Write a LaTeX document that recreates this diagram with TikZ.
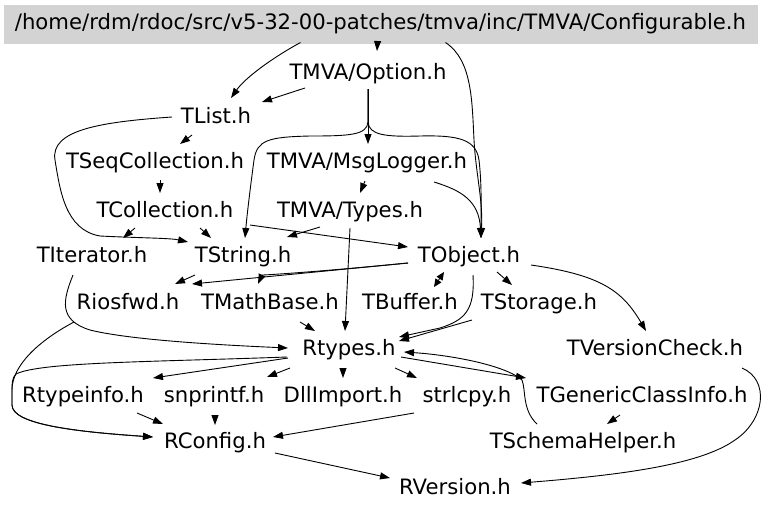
\documentclass[tikz,border=0pt]{standalone}
\usepackage{fontspec}
\setmainfont{DejaVu Sans}
\usetikzlibrary{arrows.meta,calc}
\definecolor{rootgray}{RGB}{211,211,211}
\begin{document}
\begin{tikzpicture}[x=1pt,y=-1pt,
  nd/.style={inner sep=0pt, text height=15pt, text depth=4.5pt, font=\fontsize{21.2}{25}\selectfont},
  arr/.style={draw, line width=0.9pt, -{Triangle[length=10pt,width=7pt]}},
  dbl/.style={draw, line width=0.9pt, {Triangle[length=8pt,width=7pt]}-{Triangle[length=8pt,width=7pt]}}
]
\useasboundingbox (0,0) rectangle (768,512);
\node[nd, fill=rootgray, minimum width=754pt, minimum height=39pt] (root) at (380.5,24.5) {/home/rdm/rdoc/src/v5-32-00-patches/tmva/inc/TMVA/Configurable.h};
\node[nd] (opt) at (368,74) {TMVA/Option.h};
\node[nd] (tlist) at (216,118) {TList.h};
\node[nd] (tseq) at (155,163) {TSeqCollection.h};
\node[nd] (msg) at (367,163) {TMVA/MsgLogger.h};
\node[nd] (tcoll) at (165,212) {TCollection.h};
\node[nd] (types) at (350,212) {TMVA/Types.h};
\node[nd] (titer) at (92,257) {TIterator.h};
\node[nd] (tstring) at (243,257) {TString.h};
\node[nd] (tobject) at (469,257) {TObject.h};
\node[nd] (riosfwd) at (128,304) {Riosfwd.h};
\node[nd] (tmath) at (270,304) {TMathBase.h};
\node[nd] (tbuffer) at (410,304) {TBuffer.h};
\node[nd] (tstorage) at (539,304) {TStorage.h};
\node[nd] (rtypes) at (349,350) {Rtypes.h};
\node[nd] (tversion) at (655,350) {TVersionCheck.h};
\node[nd] (rtypeinfo) at (83,397) {Rtypeinfo.h};
\node[nd] (snprintf) at (214,397) {snprintf.h};
\node[nd] (dllimport) at (343,397) {DllImport.h};
\node[nd] (strlcpy) at (467,397) {strlcpy.h};
\node[nd] (tgeneric) at (642,397) {TGenericClassInfo.h};
\node[nd] (rconfig) at (215,443) {RConfig.h};
\node[nd] (tschema) at (583,443) {TSchemaHelper.h};
\node[nd] (rversion) at (455,489) {RVersion.h};

% root
\draw[arr] ($(root)+(-80,18)$) .. controls (272,58) and (245,78) .. ($(tlist)+(15,-20)$);
\draw[arr] ($(root)+(-3,18)$) -- ($(opt)+(9,-23)$);
\draw[arr] ($(root)+(65,18)$) .. controls (472,60) and (472,100) .. (474,140) .. controls (476,175) and (483,200) .. ($(tobject)+(12,-19)$);
% option
\draw[arr] ($(opt)+(-63,14)$) -- ($(tlist)+(46,-16)$);
\draw[arr] ($(opt)+(0,15)$) -- ($(msg)+(1,-19)$);
\draw[arr] ($(opt)+(0,15)$) -- (368,122) .. controls (367,135) and (350,136) .. (310,136) .. controls (268,137) and (257,140) .. (254,160) .. controls (250,190) and (247,215) .. ($(tstring)+(2,-19)$);
\draw[arr] ($(opt)+(0,15)$) -- (368,122) .. controls (369,135) and (385,137) .. (420,136) .. controls (460,135) and (476,140) .. (479,160) .. controls (482,185) and (481,215) .. ($(tobject)+(12,-19)$);
% tlist
\draw[arr] ($(tlist)+(-24,17)$) -- ($(tseq)+(25,-19)$);
\draw[arr] ($(tlist)+(-44,-1)$) .. controls (100,122) and (50,130) .. (55,160) .. controls (60,190) and (65,230) .. (100,236) .. controls (140,238) and (170,238) .. ($(tstring)+(-55,-15)$);
% tseq, tcoll
\draw[arr] ($(tseq)+(5,17)$) -- ($(tcoll)+(-5,-19)$);
\draw[arr] ($(tcoll)+(-30,16)$) -- ($(titer)+(31,-19)$);
\draw[arr] ($(tcoll)+(35,16)$) -- ($(tstring)+(-32,-19)$);
\draw[arr] ($(tcoll)+(85,13)$) -- ($(tobject)+(-61,-10)$);
% msglogger, types
\draw[arr] ($(msg)+(-2,18)$) -- ($(types)+(10,-19)$);
\draw[arr] ($(msg)+(67,19)$) .. controls (460,190) and (479,200) .. ($(tobject)+(12,-19)$);
\draw[arr] ($(types)+(-30,15)$) -- ($(tstring)+(44,-20)$);
\draw[arr] ($(types)+(0,16)$) -- ($(rtypes)+(-4,-19)$);
% tstring, tobject
\draw[arr] ($(tstring)+(-48,18)$) -- ($(riosfwd)+(47,-20)$);
\draw[arr] ($(tobject)+(-61,6)$) -- ($(riosfwd)+(64,-20)$);
\draw[arr] ($(tobject)+(-61,6)$) .. controls (300,273.5) and (262,275) .. ($(tmath)+(-12,-20)$);
\draw[dbl] ($(tobject)+(-25,15)$) -- ($(tbuffer)+(24,-17)$);
\draw[arr] ($(tobject)+(28,15)$) -- ($(tstorage)+(-27,-19)$);
\draw[arr] ($(tobject)+(4,18)$) .. controls (475,310) and (465,320) .. (440,328) -- ($(rtypes)+(50,-13)$);
\draw[arr] ($(tstorage)+(-67,16)$) -- ($(rtypes)+(50,-9)$);
\draw[arr] ($(tobject)+(62,8)$) .. controls (600,275) and (622,290) .. ($(tversion)+(-9,-19)$);
% to rtypes
\draw[arr] ($(tmath)+(30,18)$) -- ($(rtypes)+(-34,-19)$);
\draw[arr] ($(titer)+(-19,18)$) .. controls (63,300) and (58,320) .. (90,330) .. controls (130,340) and (220,345) .. ($(rtypes)+(-61,-2)$);
% to rconfig (left bundle)
\draw[arr] ($(riosfwd)+(-54,18)$) .. controls (40,340) and (12,365) .. (12,390) -- (12,405) .. controls (12,425) and (80,432) .. ($(rconfig)+(-62,-6)$);
\draw[arr] ($(rtypes)+(-62,7)$) .. controls (150,362) and (40,362) .. (16,374) .. controls (12,378) and (12,384) .. (12,390) -- (12,405) .. controls (12,425) and (80,432) .. ($(rconfig)+(-62,-6)$);
% from rtypes
\draw[arr] ($(rtypes)+(-61,8)$) -- ($(rtypeinfo)+(70,-19)$);
\draw[arr] ($(rtypes)+(-59,18)$) -- ($(snprintf)+(53,-20)$);
\draw[arr] ($(rtypes)+(-6,18)$) -- ($(dllimport)+(0,-19)$);
\draw[arr] ($(rtypes)+(46,18)$) -- ($(strlcpy)+(-50,-19)$);
\draw[arr] ($(rtypes)+(52,7)$) -- ($(tgeneric)+(-116,-19)$);
\draw[arr] ($(tschema)+(-46,-19)$) .. controls (522,410) and (526,390) .. (522,380) .. controls (505,365) and (450,355) .. ($(rtypes)+(55,2)$);
\draw[arr] ($(tgeneric)+(-22,18)$) -- ($(tschema)+(24,-19)$);
% to rconfig
\draw[arr] ($(rtypeinfo)+(54,16)$) -- ($(rconfig)+(-52,-19)$);
\draw[arr] ($(snprintf)+(1,18)$) -- ($(rconfig)+(0,-18)$);
\draw[arr] ($(strlcpy)+(-53,16)$) -- ($(rconfig)+(58,-6)$);
% to rversion
\draw[arr] ($(rconfig)+(60,10)$) -- ($(rversion)+(-65,-11)$);
\draw[arr] ($(tversion)+(87,18)$) .. controls (770,380) and (765,420) .. (735,440) .. controls (700,465) and (620,475) .. ($(rversion)+(66,-6)$);
\end{tikzpicture}
\end{document}
